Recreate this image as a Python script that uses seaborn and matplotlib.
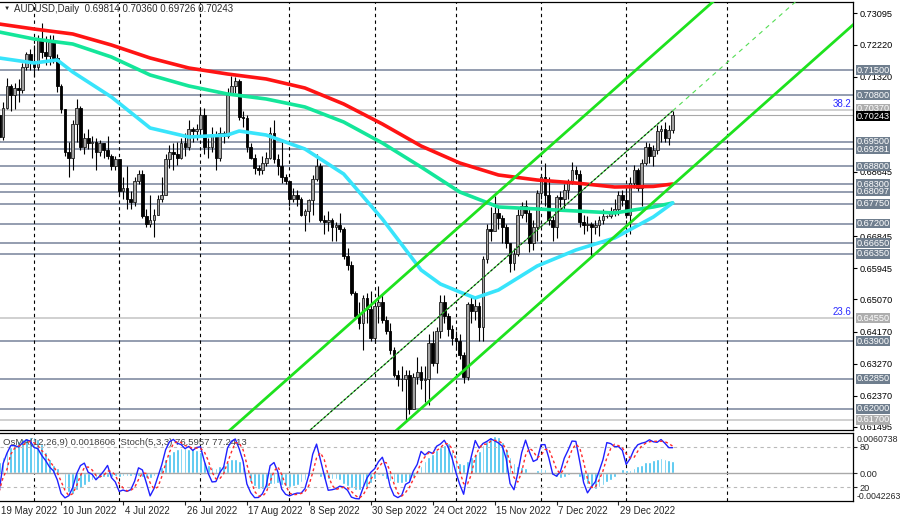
import numpy as np
import pandas as pd
import matplotlib
matplotlib.use("Agg")
import matplotlib.pyplot as plt
import matplotlib.transforms as mtransforms
import seaborn as sns

# bar index 0 = 1 Jun 2022, one step per trading day
first_bar = -9
first_date = "2022-05-19"
first_open = 0.7025

close = [0.6962, 0.7045, 0.7105, 0.7080, 0.7100, 0.7095, 0.7160, 0.7195, 0.7170,
         0.7160, 0.7235, 0.7200, 0.7190, 0.7230, 0.7185, 0.7105, 0.7040, 0.6920, 0.6905,
         0.7000, 0.7045, 0.6935, 0.6960, 0.6945, 0.6950, 0.6920, 0.6945, 0.6925, 0.6910,
         0.6880, 0.6900, 0.6810, 0.6820, 0.6790, 0.6780, 0.6840, 0.6860, 0.6740, 0.6720,
         0.6730, 0.6745, 0.6790, 0.6800, 0.6900, 0.6920, 0.6915, 0.6905, 0.6945, 0.6935,
         0.6985, 0.6980, 0.6985, 0.7025, 0.6935, 0.6935, 0.6970, 0.6905, 0.6975, 0.6965,
         0.7080, 0.7105, 0.7120, 0.7020, 0.7015, 0.6935, 0.6905, 0.6875, 0.6870, 0.6890,
         0.6905, 0.6975, 0.6900, 0.6880, 0.6850, 0.6840, 0.6790, 0.6800, 0.6790, 0.6745,
         0.6755, 0.6785, 0.6845, 0.6880, 0.6730, 0.6725, 0.6730, 0.6710, 0.6715, 0.6705,
         0.6630, 0.6605, 0.6525, 0.6460, 0.6440, 0.6510, 0.6480, 0.6400, 0.6490, 0.6500,
         0.6450, 0.6420, 0.6365, 0.6295, 0.6285, 0.6285, 0.6295, 0.6200, 0.6290, 0.6305,
         0.6280, 0.6285, 0.6385, 0.6330, 0.6420, 0.6500, 0.6460, 0.6425, 0.6400, 0.6390,
         0.6350, 0.6290, 0.6495, 0.6475, 0.6490, 0.6430, 0.6620, 0.6705, 0.6700, 0.6750,
         0.6735, 0.6710, 0.6665, 0.6610, 0.6635, 0.6745, 0.6770, 0.6750, 0.6665, 0.6710,
         0.6805, 0.6850, 0.6800, 0.6730, 0.6710, 0.6795, 0.6790, 0.6815, 0.6835, 0.6870,
         0.6860, 0.6725, 0.6715, 0.6720, 0.6710, 0.6715, 0.6730, 0.6740, 0.6742, 0.6750,
         0.6760, 0.6800, 0.6785, 0.6745, 0.6835, 0.6870, 0.6820, 0.6890, 0.6935, 0.6910,
         0.6925, 0.6980, 0.6985, 0.6960, 0.69814, 0.70243]

high = [0.7035, 0.7060, 0.7128, 0.7110, 0.7115, 0.7125, 0.7170, 0.7200, 0.7210,
        0.7220, 0.7250, 0.7283, 0.7245, 0.7250, 0.7250, 0.7195, 0.7110, 0.7040, 0.6950,
        0.7010, 0.7070, 0.7050, 0.6975, 0.6985, 0.6965, 0.6960, 0.6955, 0.6945, 0.6965,
        0.6915, 0.6910, 0.6900, 0.6850, 0.6880, 0.6810, 0.6850, 0.6870, 0.6870, 0.6760,
        0.6800, 0.6760, 0.6800, 0.6850, 0.6915, 0.6940, 0.6945, 0.6950, 0.6960, 0.6975,
        0.7010, 0.6990, 0.7000, 0.7045, 0.7045, 0.6960, 0.6990, 0.6980, 0.6990, 0.6980,
        0.7100, 0.7135, 0.7130, 0.7125, 0.7035, 0.7025, 0.6945, 0.6915, 0.6885, 0.6910,
        0.6920, 0.6990, 0.7010, 0.6915, 0.6950, 0.6860, 0.6840, 0.6820, 0.6815, 0.6795,
        0.6760, 0.6790, 0.6855, 0.6915, 0.6890, 0.6745, 0.6755, 0.6735, 0.6725, 0.6750,
        0.6710, 0.6650, 0.6615, 0.6530, 0.6500, 0.6520, 0.6525, 0.6530, 0.6500, 0.6545,
        0.6520, 0.6460, 0.6440, 0.6375, 0.6310, 0.6320, 0.6310, 0.6310, 0.6300, 0.6345,
        0.6320, 0.6320, 0.6410, 0.6420, 0.6430, 0.6520, 0.6520, 0.6470, 0.6435, 0.6420,
        0.6410, 0.6360, 0.6500, 0.6520, 0.6515, 0.6500, 0.6630, 0.6720, 0.6765, 0.6797,
        0.6770, 0.6745, 0.6720, 0.6665, 0.6650, 0.6760, 0.6780, 0.6785, 0.6765, 0.6730,
        0.6815, 0.6860, 0.6890, 0.6850, 0.6740, 0.6800, 0.6810, 0.6830, 0.6845, 0.6892,
        0.6880, 0.6870, 0.6745, 0.6740, 0.6725, 0.6730, 0.6740, 0.6760, 0.6745, 0.6765,
        0.6790, 0.6810, 0.6815, 0.6825, 0.6850, 0.6885, 0.6875, 0.6900, 0.6950, 0.6945,
        0.6940, 0.6995, 0.6995, 0.7005, 0.6995, 0.70360]

low = [0.6950, 0.6955, 0.7040, 0.7035, 0.7040, 0.7060, 0.7085, 0.7150, 0.7150,
       0.7130, 0.7150, 0.7185, 0.7165, 0.7165, 0.7170, 0.7090, 0.7030, 0.6910, 0.6850,
       0.6870, 0.6950, 0.6925, 0.6915, 0.6930, 0.6905, 0.6870, 0.6910, 0.6905, 0.6900,
       0.6870, 0.6870, 0.6800, 0.6790, 0.6760, 0.6760, 0.6770, 0.6830, 0.6735, 0.6710,
       0.6710, 0.6682, 0.6745, 0.6780, 0.6800, 0.6875, 0.6870, 0.6885, 0.6900, 0.6910,
       0.6925, 0.6950, 0.6955, 0.6970, 0.6915, 0.6905, 0.6920, 0.6870, 0.6895, 0.6945,
       0.6960, 0.7080, 0.7085, 0.7010, 0.6990, 0.6920, 0.6900, 0.6860, 0.6855, 0.6860,
       0.6880, 0.6900, 0.6890, 0.6855, 0.6835, 0.6830, 0.6770, 0.6780, 0.6770, 0.6740,
       0.6700, 0.6725, 0.6745, 0.6840, 0.6725, 0.6690, 0.6700, 0.6670, 0.6670, 0.6695,
       0.6620, 0.6590, 0.6520, 0.6455, 0.6425, 0.6365, 0.6440, 0.6390, 0.6385, 0.6440,
       0.6440, 0.6410, 0.6355, 0.6290, 0.6265, 0.6250, 0.6170, 0.6185, 0.6200, 0.6270,
       0.6255, 0.6220, 0.6210, 0.6320, 0.6300, 0.6400, 0.6440, 0.6405, 0.6380, 0.6365,
       0.6340, 0.6272, 0.6280, 0.6440, 0.6450, 0.6390, 0.6390, 0.6610, 0.6670, 0.6700,
       0.6705, 0.6665, 0.6650, 0.6585, 0.6590, 0.6630, 0.6735, 0.6725, 0.6640, 0.6645,
       0.6670, 0.6790, 0.6770, 0.6715, 0.6670, 0.6680, 0.6765, 0.6760, 0.6790, 0.6830,
       0.6845, 0.6710, 0.6690, 0.6700, 0.6630, 0.6690, 0.6685, 0.6720, 0.6735, 0.6735,
       0.6740, 0.6745, 0.6770, 0.6735, 0.6690, 0.6820, 0.6810, 0.6770, 0.6885, 0.6890,
       0.6880, 0.6915, 0.6950, 0.6950, 0.6940, 0.69726]

# OsMA(12,26,9) histogram, in units of 0.001
osma_e3 = [1.7, 2.4, 3.4, 4.0, 4.4, 4.8, 5.1, 5.3, 5.5,
           5.5, 5.2, 4.4, 3.2, 2.2, 1.2, 0.7, -0.1, -2.4, -2.9,
           -3.1, -2.6, -2.2, -1.8, -1.4, -1.1, -1.0, -0.8, -0.6, -0.6,
           -0.6, -0.5, -0.6, -0.5, -0.45, -0.4, -0.35, -0.5, -0.6, -0.8,
           -0.7, -0.5, -0.1, 0.9, 2.2, 2.9, 3.4, 3.7, 3.8, 3.8,
           3.7, 3.6, 3.5, 3.2, 1.7, 1.3, 0.9, 0.7, 1.0, 1.2,
           1.7, 2.2, 2.2, 1.9, 0.9, -0.1, -1.4, -2.0, -2.4, -2.4,
           -2.2, -1.6, -1.6, -1.5, -1.8, -2.0, -2.1, -2.0, -1.8, -1.4,
           -1.0, -0.5, -0.1, -0.2, -0.6, -0.9, -0.9, -0.9, -0.9, -1.1,
           -1.6, -2.0, -2.3, -2.5, -2.6, -2.4, -2.1, -1.5, -0.9, -0.35,
           -0.5, -0.9, -1.2, -1.4, -1.5, -1.5, -1.4, -1.2, -0.6, 0.3,
           1.0, 1.9, 2.4, 2.9, 3.5, 4.0, 4.3, 4.5, 3.4, 2.7,
           1.5, 1.4, 1.9, 2.4, 2.9, 3.4, 4.2, 4.9, 5.5, 5.6,
           5.4, 4.7, 3.7, 2.4, 1.5, 1.0, 0.9, 0.8, -0.1, -0.2,
           0.4, 0.7, 0.6, 0.0, -0.35, -0.6, -0.7, -0.6, -0.3, -0.1,
           -0.2, -0.6, -1.1, -1.6, -2.1, -2.4, -2.1, -1.8, -1.4, -1.0,
           -0.6, 0.15, 0.6, 0.5, 0.4, 0.8, 1.1, 1.3, 1.7, 1.7,
           2.0, 2.2, 2.3, 2.1, 2.0, 1.86]

# moving averages (bar index, price)
ma200_idx = [-9, 0, 10, 20, 30, 40, 50, 60, 70, 80, 90, 100, 110, 120, 130, 140, 150, 160, 165]
ma200 = [0.72795, 0.72655, 0.72515, 0.72206, 0.71842, 0.71561, 0.71393, 0.71253, 0.71000, 0.70552,
         0.69991, 0.69374, 0.68897, 0.68561, 0.68420, 0.68336, 0.68224, 0.68240, 0.68308]
ma144 = [0.72571, 0.72375, 0.72234, 0.71870, 0.71365, 0.71057, 0.70832, 0.70692, 0.70468, 0.70047,
         0.69458, 0.68785, 0.68084, 0.67664, 0.67608, 0.67552, 0.67496, 0.67664, 0.67776]
ma50_idx = [-9, 0, 6, 10, 20, 30, 40, 50, 53, 60, 70, 80, 90, 100, 105, 110, 114, 120, 130, 140, 150, 160, 165]
ma50 = [0.71842, 0.71702, 0.71786, 0.71449, 0.70748, 0.69879, 0.69626, 0.69682, 0.69794, 0.69682,
        0.69290, 0.68590, 0.67327, 0.65897, 0.65504, 0.65280, 0.65112, 0.65336, 0.66009, 0.66458,
        0.66794, 0.67383, 0.67776]

# channel (bar index, price)
chan_up_idx, chan_up = [45, 180], [0.60866, 0.73861]
chan_lo_idx, chan_lo = [85, 212], [0.60568, 0.72809]
chan_mid_idx, chan_mid = [68, 165], [0.61090, 0.70360]
chan_ext_idx, chan_ext = [165, 200], [0.70360, 0.73731]

levels = [0.7150, 0.7080, 0.6950, 0.69281, 0.6880, 0.6830, 0.68097, 0.6775,
          0.6720, 0.6665, 0.6635, 0.6390, 0.6285, 0.6200]
fibo_levels = [0.7037, 0.6455, 0.6170]
fibo_names = ["38.2", "23.6", ""]
bid = 0.70243
price_ticks = [0.73095, 0.72220, 0.71320, 0.68645, 0.66845, 0.65945, 0.65070,
               0.64170, 0.63270, 0.62370, 0.61495]

title = "AUDUSD,Daily  0.69814 0.70360 0.69726 0.70243"
ind_title = "OsMA(12,26,9) 0.0018606  Stoch(5,3,3) 76.5957 77.2413"
osma_max, osma_min = 0.0060738, -0.0042263

# ---- derived series ----
n = len(close)
idx = np.arange(first_bar, first_bar + n)
dates = pd.bdate_range(first_date, periods=n)
c = np.array(close)
o = np.concatenate([[first_open], c[:-1]])
h = np.maximum(np.array(high), np.maximum(o, c))
l = np.minimum(np.array(low), np.minimum(o, c))
osma = np.array(osma_e3) * 1e-3

# Stochastic(5,3,3) from the candles
hs, ls, cs = pd.Series(h), pd.Series(l), pd.Series(c)
ll = ls.rolling(5, min_periods=1).min()
hh = hs.rolling(5, min_periods=1).max()
k = (cs - ll).rolling(3, min_periods=1).sum() / (hh - ll).rolling(3, min_periods=1).sum() * 100
d = k.rolling(3, min_periods=1).mean()

# month separators; beyond the last bar the terminal counts calendar days
month_bars = [i for i, dt, prev in zip(idx[1:], dates[1:], dates[:-1]) if dt.month != prev.month]
next_month = dates[-1] + pd.offsets.MonthBegin(1)
month_bars.append(idx[-1] + (next_month - dates[-1]).days)
label_pos = list(range(0, n, 16))

# ---- figure ----
sns.set_style("white")
plt.rcParams["font.family"] = ["Liberation Sans", "DejaVu Sans"]
fs = 6.6

fig = plt.figure(figsize=(9, 5.22), dpi=100)
ax = fig.add_axes([0, 1 - 430 / 522, 853 / 900, 428 / 522])
ax2 = fig.add_axes([0, 1 - 501 / 522, 853 / 900, 68 / 522])
xlim = (-8.79, 211.6)

ax.set_xlim(*xlim)
ax.set_ylim(0.61410, 0.73412)

for lv in levels:
    ax.axhline(lv, color="#76839a", lw=1.1, zorder=1)
for lv in fibo_levels:
    ax.axhline(lv, color="#c4c4c4", lw=1.1, zorder=1)
ax.axhline(bid, color="#a8a8a8", lw=0.8, zorder=1)

for m in month_bars:
    for a in (ax, ax2):
        a.axvline(m, color="black", lw=0.8, ls=(0, (3, 3)), zorder=1.5)

# candles
up = c >= o
ax.vlines(idx, l, h, color="black", lw=0.8, zorder=3)
ax.bar(idx[up], (c - o)[up], bottom=o[up], width=0.7, color="#a3a3a3",
       edgecolor="#1e1e1e", lw=0.6, zorder=4)
ax.bar(idx[~up], (o - c)[~up], bottom=c[~up], width=0.7, color="black",
       edgecolor="black", lw=0.6, zorder=4)

# moving averages
sns.lineplot(x=ma200_idx, y=ma200, ax=ax, color="#ff1414", lw=2.6, sort=False, zorder=5)
sns.lineplot(x=ma200_idx, y=ma144, ax=ax, color="#14e69a", lw=2.6, sort=False, zorder=5)
sns.lineplot(x=ma50_idx, y=ma50, ax=ax, color="#38e4fb", lw=2.6, sort=False, zorder=5)

# channel
sns.lineplot(x=chan_up_idx, y=chan_up, ax=ax, color="#1ee21e", lw=2.0, zorder=6)
sns.lineplot(x=chan_lo_idx, y=chan_lo, ax=ax, color="#1ee21e", lw=2.0, zorder=6)
ax.plot(chan_mid_idx, chan_mid, color="#2fd12f", lw=0.8, zorder=6)
ax.plot(chan_mid_idx, chan_mid, color="#1a1a1a", lw=0.8, ls=(0, (2, 2)), zorder=6)
ax.plot(chan_ext_idx, chan_ext, color="#55dd55", lw=0.8, ls=(0, (4, 4)), zorder=6)

# right price scale
ax.yaxis.tick_right()
ax.set_yticks(price_ticks)
ax.set_yticklabels([f"{t:.5f}" for t in price_ticks])
ax.tick_params(axis="y", length=3, width=0.8, pad=2, labelsize=fs, colors="black")
ax.set_xticks([])
for s in ("top", "right", "bottom"):
    ax.spines[s].set_color("black")
    ax.spines[s].set_linewidth(0.9)
ax.spines["left"].set_visible(False)

ytr = mtransforms.blended_transform_factory(ax.transAxes, ax.transData)
box = dict(boxstyle="square,pad=0.05", ec="none")
for lv in levels:
    ax.text(1.004, lv, f"{lv:.5f}", transform=ytr, ha="left", va="center", fontsize=fs,
            color="white", bbox=dict(box, fc="#6f7e8e"), clip_on=False, zorder=10)
for lv, nm in zip(fibo_levels, fibo_names):
    shift = 0.0005 if nm == "38.2" else 0.0
    ax.text(1.004, lv + shift, f"{lv:.5f}", transform=ytr, ha="left", va="center", fontsize=fs,
            color="white", bbox=dict(box, fc="#aeaeae"), clip_on=False, zorder=10)
    if nm:
        ax.text(0.998, lv + 0.0004, nm, transform=ytr, ha="right", va="bottom",
                fontsize=fs + 0.4, color="#2a2aff", zorder=10)
ax.text(1.004, bid - 0.0003, f"{bid:.5f}", transform=ytr, ha="left", va="center", fontsize=fs,
        color="white", bbox=dict(box, fc="black"), clip_on=False, zorder=11)

ax.text(0.004, 0.984, "\u25bc", transform=ax.transAxes, fontsize=4.5, va="center", ha="left")
ax.text(0.016, 0.984, title, transform=ax.transAxes, fontsize=fs + 0.4, va="center",
        ha="left", color="#2b2b2b")

# indicator window
ax2.set_xlim(*xlim)
ax2.set_ylim(osma_min, osma_max)
ax2.bar(idx, osma, width=0.72, color="#3fc0ee", zorder=2)
ax2.axhline(0, color="#a9a9a9", lw=1.0, zorder=2.5)
for s in ("top", "right", "bottom"):
    ax2.spines[s].set_color("black")
    ax2.spines[s].set_linewidth(0.9)
ax2.spines["left"].set_visible(False)
ax2.set_xticks([idx[p] for p in label_pos if idx[p] > xlim[0]])
ax2.set_xticklabels([])
ax2.tick_params(axis="x", length=3, width=0.8, bottom=True)

ax3 = ax2.twinx()
ax3.set_ylim(0, 100)
ax3.axhline(80, color="#b9b9b9", lw=0.8, ls=(0, (3, 3)))
ax3.axhline(20, color="#b9b9b9", lw=0.8, ls=(0, (3, 3)))
sns.lineplot(x=idx, y=k.to_numpy(), ax=ax3, color="#2020ff", lw=1.0)
ax3.plot(idx, d.to_numpy(), color="#ff2a2a", lw=1.0, ls=(0, (2, 2)))
ax3.set_yticks([20, 80])
ax3.set_yticklabels(["20", "80"])
ax3.tick_params(axis="y", length=3, width=0.8, pad=2, labelsize=fs)
ax3.set_xlim(*xlim)
for s in ax3.spines.values():
    s.set_visible(False)

# twinx moved the OsMA scale to the left: put it back on the right
ax2.yaxis.tick_right()
ax2.set_yticks([0])
ax2.set_yticklabels(["0.00"])
ax2.tick_params(axis="y", length=3, width=0.8, pad=2, labelsize=fs)

ax2.text(1.004, 0.91, f"{osma_max:.7f}", transform=ax2.transAxes, fontsize=fs - 0.3, va="center")
ax2.text(1.004, 0.06, f"{osma_min:.7f}", transform=ax2.transAxes, fontsize=fs - 0.3, va="center")
ax2.text(0.004, 0.86, ind_title, transform=ax2.transAxes, fontsize=fs + 0.2, va="center",
         color="#404040", zorder=5)

xtr = mtransforms.blended_transform_factory(ax2.transData, ax2.transAxes)
for p in label_pos:
    dt = dates[p]
    ax2.text(idx[p] + 0.4, -0.15, f"{dt.day} {dt:%b %Y}", transform=xtr, fontsize=fs + 0.4,
             va="center", ha="left", clip_on=False)

fig.savefig("out.png", dpi=100)
